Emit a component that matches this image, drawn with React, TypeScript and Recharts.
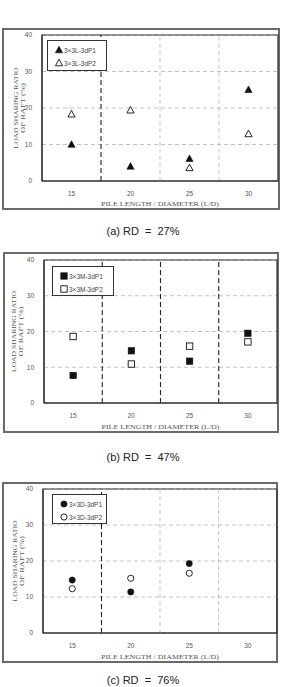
import React from "react";
import {
  CartesianGrid,
  ReferenceArea,
  ReferenceLine,
  Scatter,
  ScatterChart,
  XAxis,
  YAxis,
} from "recharts";

// pile length / diameter categories
const LD = [15, 20, 25, 30];
const LD_TICKS = [15, 20, 25, 30];
const RATIO_TICKS = [0, 10, 20, 30, 40];

// (a) RD = 27%, loose
const L_P1 = [10, 4, 6.1, 25];
const L_P2 = [18.3, 19.4, 3.6, 12.9];
// (b) RD = 47%, medium
const M_P1 = [7.7, 14.6, 11.7, 19.5];
const M_P2 = [18.6, 10.9, 15.9, 17.1];
// (c) RD = 76%, dense (no L/D = 30 test)
const D_P1 = [14.7, 11.4, 19.3];
const D_P2 = [12.3, 15.2, 16.6];

const SERIES_NAMES = {
  a: ["3×3L-3dP1", "3×3L-3dP2"],
  b: ["3×3M-3dP1", "3×3M-3dP2"],
  c: ["3×3D-3dP1", "3×3D-3dP2"],
};
const CAPTIONS = ["(a) RD = 27%", "(b) RD = 47%", "(c) RD = 76%"];
const BOUNDARIES = [17.5, 22.5, 27.5];

type Kind = "triangle" | "square" | "circle";

const toPoints = (vals: number[]) => vals.map((y, i) => ({ x: LD[i], y }));

function symbol(kind: Kind, filled: boolean, cx: number, cy: number) {
  const fill = filled ? "#111" : "#fff";
  const stroke = "#111";
  const sw = filled ? 0.6 : 0.9;
  if (kind === "triangle") {
    const d = `M${cx},${cy - 3.8}L${cx + 3.6},${cy + 2.8}L${cx - 3.6},${cy + 2.8}Z`;
    return <path d={d} fill={fill} stroke={stroke} strokeWidth={sw} />;
  }
  if (kind === "square") {
    return <rect x={cx - 3.2} y={cy - 3.2} width={6.4} height={6.4} fill={fill} stroke={stroke} strokeWidth={sw} />;
  }
  return <circle cx={cx} cy={cy} r={3.1} fill={fill} stroke={stroke} strokeWidth={sw} />;
}

const shapeOf = (kind: Kind, filled: boolean) => (p: any) => symbol(kind, filled, p.cx, p.cy);

type Panel = {
  box: { left: number; top: number; w: number; h: number };
  plot: { l: number; r: number; t: number; b: number };
  legend: { l: number; t: number; w: number; h: number };
  yLab: [number, number];
  dark: number[];
  kind: Kind;
  names: string[];
  p1: number[];
  p2: number[];
  capY: number;
  caption: string;
};

const PANELS: Panel[] = [
  {
    box: { left: 2, top: 28, w: 278, h: 182 },
    plot: { l: 42, r: 278, t: 35, b: 181 },
    legend: { l: 47, t: 40, w: 60, h: 31 },
    yLab: [16, 23],
    dark: [17.5],
    kind: "triangle",
    names: SERIES_NAMES.a,
    p1: L_P1,
    p2: L_P2,
    capY: 231,
    caption: CAPTIONS[0],
  },
  {
    box: { left: 3, top: 252, w: 276, h: 181 },
    plot: { l: 44, r: 277, t: 260, b: 403 },
    legend: { l: 52, t: 266, w: 62, h: 30 },
    yLab: [14, 21],
    dark: [17.5, 22.5, 27.5],
    kind: "square",
    names: SERIES_NAMES.b,
    p1: M_P1,
    p2: M_P2,
    capY: 457,
    caption: CAPTIONS[1],
  },
  {
    box: { left: 2, top: 482, w: 276, h: 181 },
    plot: { l: 43, r: 277, t: 489, b: 633 },
    legend: { l: 52, t: 494, w: 55, h: 30 },
    yLab: [15, 22],
    dark: [17.5],
    kind: "circle",
    names: SERIES_NAMES.c,
    p1: D_P1,
    p2: D_P2,
    capY: 680,
    caption: CAPTIONS[2],
  },
];

const tickStyle = { fontSize: 6.5, fill: "#555", fontFamily: "'Liberation Sans', Arial, sans-serif" };
const serif = "'Liberation Serif', 'Times New Roman', serif";
const labStyle = { fontSize: 7, fill: "#555", fontFamily: serif };

function PanelChart({ p }: { p: Panel }) {
  const chartH = p.box.h;
  const top = p.plot.t - p.box.top;
  const xAxisH = p.box.top + p.box.h - p.plot.b;
  return (
    <>
      <div
        style={{
          position: "absolute",
          left: p.box.left,
          top: p.box.top,
          width: p.box.w,
          height: p.box.h,
          boxSizing: "border-box",
          border: "2px solid #6a6a6a",
        }}
      />
      <div style={{ position: "absolute", left: 0, top: p.box.top }}>
        <ScatterChart width={286} height={chartH} margin={{ top, right: 286 - p.plot.r, bottom: 0, left: 0 }}>
          <CartesianGrid vertical={false} stroke="#b4b4b4" strokeDasharray="4 3" strokeWidth={0.8} />
          <XAxis
            type="number"
            dataKey="x"
            domain={[12.5, 32.5]}
            ticks={LD_TICKS}
            height={xAxisH}
            tick={tickStyle}
            tickLine={false}
            tickMargin={4}
            axisLine={{ stroke: "#333", strokeWidth: 1.2 }}
            label={{
              content: ({ viewBox }: any) => (
                <text
                  x={viewBox.x + viewBox.width / 2}
                  y={viewBox.y + viewBox.height - 4.5}
                  textAnchor="middle"
                  textLength={118}
                  lengthAdjust="spacingAndGlyphs"
                  style={labStyle}
                >
                  PILE LENGTH / DIAMETER (L/D)
                </text>
              ),
            }}
          />
          <YAxis
            type="number"
            dataKey="y"
            domain={[0, 40]}
            ticks={RATIO_TICKS}
            width={p.plot.l}
            tick={tickStyle}
            tickLine={false}
            tickMargin={4}
            axisLine={{ stroke: "#333", strokeWidth: 1.2 }}
            label={{
              content: ({ viewBox }: any) => {
                const cy = viewBox.y + viewBox.height / 2;
                return (
                  <g>
                    <text
                      x={p.yLab[0]}
                      y={cy}
                      transform={`rotate(-90 ${p.yLab[0]} ${cy})`}
                      textAnchor="middle"
                      dominantBaseline="central"
                      textLength={81}
                      lengthAdjust="spacingAndGlyphs"
                      style={labStyle}
                    >
                      LOAD SHARING RATIO
                    </text>
                    <text
                      x={p.yLab[1]}
                      y={cy}
                      transform={`rotate(-90 ${p.yLab[1]} ${cy})`}
                      textAnchor="middle"
                      dominantBaseline="central"
                      textLength={50}
                      lengthAdjust="spacingAndGlyphs"
                      style={labStyle}
                    >
                      OF RAFT (%)
                    </text>
                  </g>
                );
              },
            }}
          />
          {BOUNDARIES.map((b) =>
            p.dark.includes(b) ? (
              <ReferenceLine key={b} x={b} stroke="#222" strokeWidth={1.1} strokeDasharray="5 3" />
            ) : (
              <ReferenceLine key={b} x={b} stroke="#b4b4b4" strokeWidth={0.8} strokeDasharray="4 3" />
            )
          )}
          <ReferenceArea x1={12.5} x2={32.5} y1={0} y2={40} fill="none" stroke="#333" strokeWidth={1.2} ifOverflow="visible" />
          <Scatter name={p.names[0]} data={toPoints(p.p1)} shape={shapeOf(p.kind, true)} isAnimationActive={false} />
          <Scatter name={p.names[1]} data={toPoints(p.p2)} shape={shapeOf(p.kind, false)} isAnimationActive={false} />
        </ScatterChart>
      </div>
      <div
        style={{
          position: "absolute",
          left: p.legend.l,
          top: p.legend.t,
          width: p.legend.w,
          height: p.legend.h,
          boxSizing: "border-box",
          border: "1px solid #333",
          background: "#fff",
          fontFamily: "'Liberation Sans', Arial, sans-serif",
          fontSize: 6.5,
          color: "#444",
        }}
      >
        {p.names.map((n, i) => (
          <div
            key={n}
            style={{ position: "absolute", left: 7, top: i === 0 ? 5 : 18, display: "flex", alignItems: "center", whiteSpace: "nowrap" }}
          >
            <svg width={8} height={8} style={{ marginRight: 1 }}>
              {symbol(p.kind, i === 0, 4, 4)}
            </svg>
            {n}
          </div>
        ))}
      </div>
      <div
        style={{
          position: "absolute",
          left: 0,
          width: 286,
          top: p.capY - 7,
          textAlign: "center",
          fontFamily: "'Liberation Sans', Arial, sans-serif",
          fontSize: 11,
          color: "#222",
          whiteSpace: "pre",
          lineHeight: "14px",
        }}
      >
        {p.caption.replace(" = ", "  =  ")}
      </div>
    </>
  );
}

export default function App() {
  return (
    <div style={{ position: "absolute", left: 0, top: 0, width: 286, height: 687, background: "#fff", overflow: "hidden" }}>
      {PANELS.map((p) => (
        <PanelChart key={p.caption} p={p} />
      ))}
    </div>
  );
}
